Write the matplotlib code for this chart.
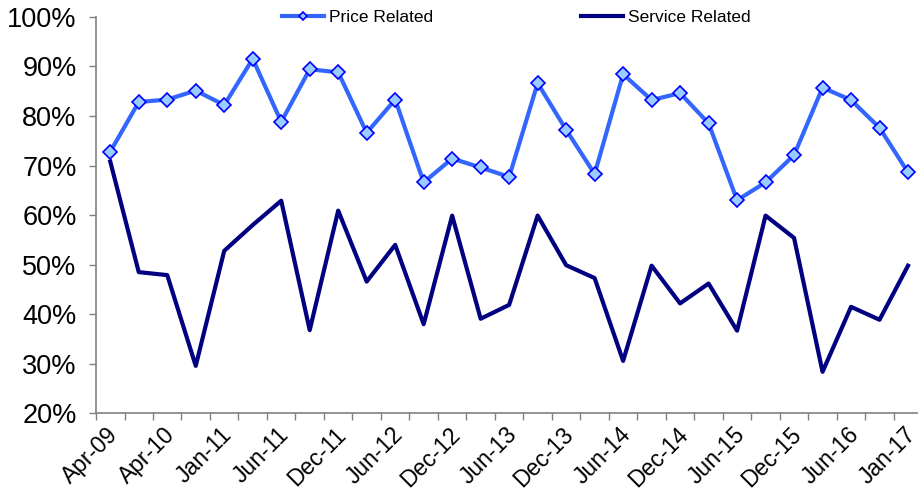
import numpy as np
import matplotlib.pyplot as plt
import matplotlib.transforms as mtransforms
from matplotlib.ticker import FixedLocator, PercentFormatter

plt.rcParams['font.family'] = ['Liberation Sans', 'DejaVu Sans']

# tick labels shown on every other category
tick_labels = ['Apr-09', 'Apr-10', 'Jan-11', 'Jun-11', 'Dec-11', 'Jun-12', 'Dec-12',
               'Jun-13', 'Dec-13', 'Jun-14', 'Dec-14', 'Jun-15', 'Dec-15', 'Jun-16', 'Jan-17']

price_related = [72.8, 82.8, 83.3, 85.1, 82.2, 91.5, 78.8, 89.4, 88.8, 76.6,
                 83.3, 66.6, 71.4, 69.6, 67.7, 86.6, 77.2, 68.3, 88.4, 83.2,
                 84.6, 78.5, 63.0, 66.6, 72.1, 85.7, 83.2, 77.6, 68.6]

service_related = [70.8, 48.5, 47.9, 29.6, 52.8, 58.0, 62.9, 36.8, 60.9, 46.6,
                   54.0, 38.0, 59.9, 39.1, 41.9, 59.9, 49.9, 47.3, 30.6, 49.8,
                   42.2, 46.2, 36.7, 59.9, 55.4, 28.4, 41.5, 38.9, 49.8]

n = len(price_related)
x = np.arange(n)

fig = plt.figure(figsize=(9.18, 4.92), dpi=100)
ax = fig.add_axes([0.1046, 0.1596, 0.8954, 0.8064])

ax.plot(x, price_related, color='#3366FF', lw=3, marker='D', markersize=7.5,
        markerfacecolor='#99CCFF', markeredgecolor='#0000FF', markeredgewidth=1.2,
        label='Price Related', zorder=3)
ax.plot(x, service_related, color='#000080', lw=3, label='Service Related', zorder=2)

ax.set_ylim(20, 100)
ax.set_xlim(-0.5, 28.35)
ax.yaxis.set_major_locator(FixedLocator(np.arange(20, 101, 10)))
ax.yaxis.set_major_formatter(PercentFormatter(decimals=0))

# ticks between categories, labels on every other category
ax.xaxis.set_major_locator(FixedLocator(np.arange(-0.5, n, 1.0)))
ax.xaxis.set_minor_locator(FixedLocator(x[::2]))
ax.set_xticklabels([], minor=False)
ax.set_xticklabels(tick_labels, minor=True, rotation=45, ha='right',
                   rotation_mode='anchor', fontsize=16.5)
ax.tick_params(axis='x', which='major', length=5, width=1, color='#808080', direction='out')
ax.tick_params(axis='x', which='minor', length=0, pad=7)
ax.tick_params(axis='y', length=5, width=1, color='#808080', labelsize=19.5, pad=9)

# nudge rotated labels a little left so the last one stays inside
shift = mtransforms.ScaledTranslation(-4 / 100, 0, fig.dpi_scale_trans)
for lbl in ax.get_xticklabels(minor=True):
    lbl.set_transform(lbl.get_transform() + shift)

for side in ['top', 'right']:
    ax.spines[side].set_visible(False)
for side in ['left', 'bottom']:
    ax.spines[side].set_color('#808080')
    ax.spines[side].set_linewidth(1.2)

fig.legend(loc='upper center', bbox_to_anchor=(0.5625, 1.012), ncol=2, frameon=False,
           fontsize=12.5, handlelength=2.4, handletextpad=0.3, columnspacing=8.5,
           markerscale=0.6)

fig.savefig('out.png', dpi=100)
